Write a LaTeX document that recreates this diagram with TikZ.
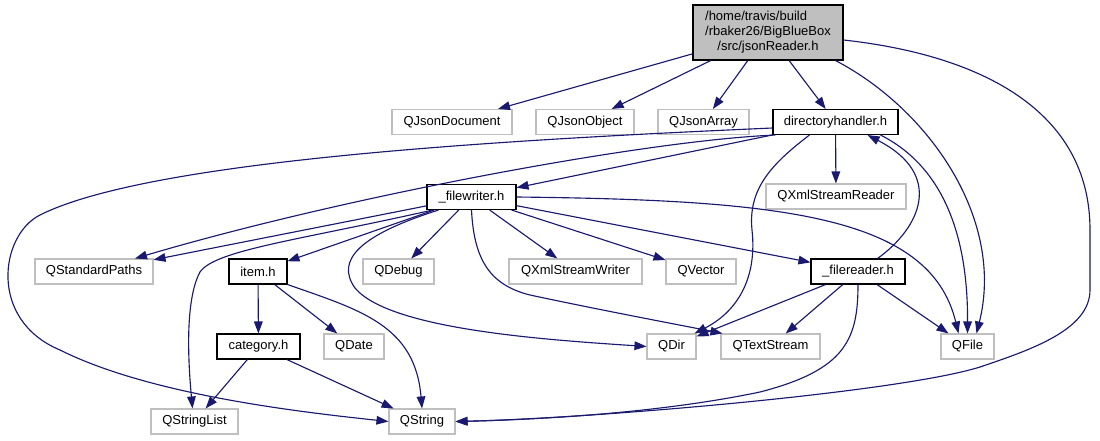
\documentclass[tikz,border=0pt]{standalone}
\usepackage{fontspec}
\setmainfont{Liberation Sans}
\usetikzlibrary{arrows.meta,calc}
\definecolor{edgec}{HTML}{191970}
\definecolor{gborder}{HTML}{BFBFBF}
\begin{document}
\begin{tikzpicture}[x=0.75pt,y=-0.75pt,
  every node/.style={font=\fontsize{9.75}{11.25}\selectfont, inner sep=0pt, minimum height=18.75pt, line width=0.8pt},
  ext/.style={draw=gborder, fill=white},
  file/.style={draw=black, fill=white},
  rootbox/.style={draw=black, fill=gborder},
  dep/.style={draw=edgec, line width=0.85pt, -{Triangle[length=9pt,width=6.5pt]}},
]
\fill[white] (0,0) rectangle (1100,440);
\useasboundingbox (0,0) rectangle (1100,440);

\node[rootbox, minimum width=150*0.75pt, minimum height=55*0.75pt] (root) at (768,32.5)
  {\begin{tabular}{@{}l@{}}/home/travis/build\\/rbaker26/BigBlueBox\\\multicolumn{1}{@{}c@{}}{/src/jsonReader.h}\end{tabular}};
\node[ext, minimum width=120*0.75pt] (qjd) at (452,122) {QJsonDocument};
\node[ext, minimum width=98*0.75pt] (qjo) at (585,122) {QJsonObject};
\node[ext, minimum width=91*0.75pt] (qja) at (703.5,122) {QJsonArray};
\node[file, minimum width=125*0.75pt] (dh) at (835.5,122) {directoryhandler.h};
\node[ext, minimum width=140*0.75pt] (qxr) at (836,196.5) {QXmlStreamReader};
\node[file, minimum width=89*0.75pt] (fw) at (471.5,197) {\_filewriter.h};
\node[ext, minimum width=118*0.75pt] (qsp) at (94,271.5) {QStandardPaths};
\node[file, minimum width=58*0.75pt] (item) at (258,271.5) {item.h};
\node[ext, minimum width=71*0.75pt] (qdbg) at (398.5,271.5) {QDebug};
\node[ext, minimum width=133*0.75pt] (qxw) at (575.5,271.5) {QXmlStreamWriter};
\node[ext, minimum width=70*0.75pt] (qvec) at (701,271.5) {QVector};
\node[file, minimum width=94*0.75pt] (fr) at (858,271.5) {\_filereader.h};
\node[file, minimum width=83*0.75pt] (cat) at (258.5,346.5) {category.h};
\node[ext, minimum width=60*0.75pt] (qdate) at (354,346.5) {QDate};
\node[ext, minimum width=49*0.75pt] (qdir) at (671.5,346.5) {QDir};
\node[ext, minimum width=99*0.75pt] (qts) at (770.5,346.5) {QTextStream};
\node[ext, minimum width=53*0.75pt] (qfile) at (967.5,346.5) {QFile};
\node[ext, minimum width=87*0.75pt] (qsl) at (194.5,421.5) {QStringList};
\node[ext, minimum width=66*0.75pt] (qstr) at (422,421.5) {QString};

% root
\draw[dep] (root) -- (qjd);
\draw[dep] (root) -- (qjo);
\draw[dep] (root) -- (qja);
\draw[dep] (root) -- (dh);
\draw[dep] ($(root.south east)+(-8,0)$) .. controls (930,110) and (1005,220) .. ($(qfile.north)+(9,0)$);
\draw[dep] ($(root.east)+(0,7.5)$) .. controls (980,55) and (1090,110) .. (1090,230) -- (1090,290)
  .. controls (1090,330) and (1030,350) .. (980,367) .. controls (900,392) and (600,418) .. (qstr.east);

% directoryhandler.h
\draw[dep] ($(dh.south west)+(3,0)$) .. controls (650,140) and (350,195) .. ($(qsp.north)+(41,0)$);
\draw[dep] (dh) -- (fw);
\draw[dep] ($(dh.west)+(0,6)$) .. controls (500,140) and (150,160) .. (40,215)
  .. controls (0,235) and (-12,320) .. (60,350) .. controls (150,395) and (300,412) .. (qstr.west);
\draw[dep] ($(dh.south west)+(37,0)$) .. controls (770,165) and (748,190) .. (752,230)
  .. controls (757,275) and (740,310) .. ($(qdir.north east)+(-2,0)$);
\draw[dep] (dh) -- (qxr);
\draw[dep] ($(dh.south east)+(-18,0)$) .. controls (940,165) and (968,230) .. (qfile.north);

% _filereader.h -> directoryhandler.h
\draw[dep] ($(fr.north east)+(-28,0)$) .. controls (920,228) and (945,175) .. ($(dh.south east)+(-31,0)$);

% _filewriter.h
\draw[dep] (fw) -- (qsp);
\draw[dep] (fw) -- (item);
\draw[dep] ($(fw.south west)+(6,0)$) .. controls (300,240) and (215,250) .. (200,272)
  .. controls (185,300) and (188,360) .. ($(qsl.north)+(-2,0)$);
\draw[dep] (fw) -- (qdbg);
\draw[dep] ($(fw.south west)+(12,0)$) .. controls (360,235) and (335,260) .. (355,288)
  .. controls (390,330) and (550,340) .. (qdir.west);
\draw[dep] (fw) -- (qxw);
\draw[dep] (fw.south) .. controls (474,260) and (490,285) .. (530,295)
  .. controls (600,310) and (680,325) .. ($(qts.north west)+(2,0)$);
\draw[dep] (fw) -- (qvec);
\draw[dep] (fw) -- (fr);
\draw[dep] (fw.east) .. controls (780,200) and (930,215) .. ($(qfile.north)+(-9,0)$);

% _filereader.h
\draw[dep] (fr) -- (qdir);
\draw[dep] (fr) -- (qts);
\draw[dep] (fr) -- (qfile);
\draw[dep] (fr.south) .. controls (858,340) and (845,370) .. (760,392)
  .. controls (650,415) and (520,420) .. (qstr.east);

% item.h
\draw[dep] (item) -- (cat);
\draw[dep] (item) -- (qdate);
\draw[dep] (item.south east) .. controls (360,310) and (415,325) .. (qstr.north);

% category.h
\draw[dep] (cat) -- (qsl);
\draw[dep] (cat) -- (qstr);
\end{tikzpicture}
\end{document}
